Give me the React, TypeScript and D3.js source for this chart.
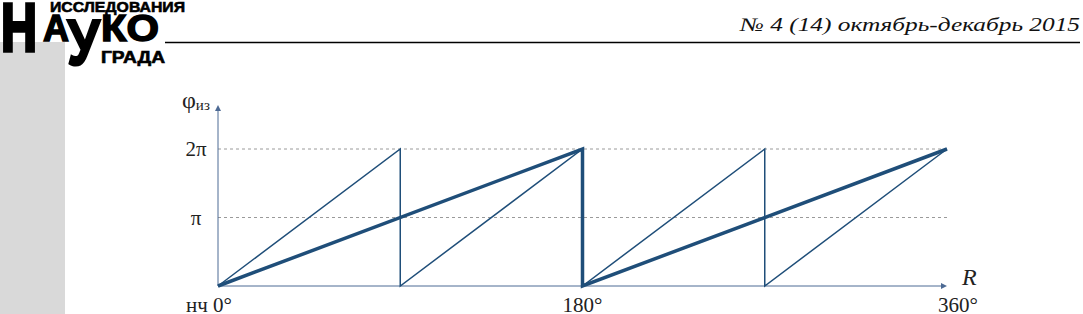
import React from "react";
import { scaleLinear, line } from "d3";

const W = 1083;
const H = 314;

// sawtooth curves, R in degrees, phase in units of π
const thinR = [0, 90, 90, 180, 180, 270, 270, 360];
const thinPhi = [0, 2, 0, 2, 0, 2, 0, 2];
const thickR = [0, 180, 180, 360];
const thickPhi = [0, 2, 0, 2];

const yTickValues = [1, 2];
const yTickLabels = ["π", "2π"];
const xTickValues = [0, 180, 360];
const xTickLabels = ["нч 0°", "180°", "360°"];

const COLOR_LINE = "#1f4e79";
const COLOR_AXIS = "#4d6a94";
const COLOR_GRID = "#9a9a9a";
const SERIF = "'Liberation Serif', 'DejaVu Serif', serif";
const SANS = "'Liberation Sans', Arial, sans-serif";

const x = scaleLinear().domain([0, 360]).range([218, 947]);
const y = scaleLinear().domain([0, 2]).range([286, 149]);

const toPts = (rs: number[], ps: number[]) => rs.map((r, i) => [r, ps[i]] as [number, number]);

const path = line<[number, number]>()
  .x((d) => x(d[0]))
  .y((d) => y(d[1]));

const Header = () => (
  <g>
    <rect x={0} y={42} width={65} height={H - 42} fill="#d9d9d9" />
    <g fontFamily={SANS} fontWeight="bold" fill="#000" stroke="#000" strokeLinejoin="miter">
      <text x={1} y={51} fontSize={68} textLength={36} lengthAdjust="spacingAndGlyphs" strokeWidth={3.5}>Н</text>
      <text x={50} y={12} fontSize={15} textLength={135} lengthAdjust="spacingAndGlyphs" strokeWidth={0.6}>ИССЛЕДОВАНИЯ</text>
      <text x={43} y={41} fontSize={37} textLength={26} lengthAdjust="spacingAndGlyphs" strokeWidth={1.5}>А</text>
      <text x={67} y={65} fontSize={64} textLength={33} lengthAdjust="spacingAndGlyphs" strokeWidth={2}>У</text>
      <text x={101} y={41} fontSize={37} textLength={58} lengthAdjust="spacingAndGlyphs" strokeWidth={1.5}>КО</text>
      <text x={101} y={63} fontSize={16} textLength={64} lengthAdjust="spacingAndGlyphs" strokeWidth={0.6}>ГРАДА</text>
    </g>
    <line x1={165} x2={1080} y1={42.5} y2={42.5} stroke="#000" strokeWidth={1.3} />
    <text
      x={1080}
      y={31}
      textAnchor="end"
      fontFamily={SERIF}
      fontStyle="italic"
      fontSize={19}
      fill="#111"
      textLength={340}
      lengthAdjust="spacingAndGlyphs"
    >
      № 4 (14) октябрь-декабрь 2015
    </text>
  </g>
);

const Chart = () => {
  const x0 = x(0);
  const y0 = y(0);
  const xEnd = x(360);
  const yTop = 105;
  return (
    <g>
      {/* dashed reference lines */}
      {yTickValues.map((v) => (
        <line
          key={v}
          x1={x0}
          x2={xEnd}
          y1={y(v)}
          y2={y(v)}
          stroke={COLOR_GRID}
          strokeWidth={1}
          strokeDasharray="3,3"
        />
      ))}
      {/* axes */}
      <line x1={x0} x2={x0} y1={y0} y2={yTop + 4} stroke={COLOR_AXIS} strokeWidth={1} />
      <path d={`M${x0 - 3},${yTop + 6}L${x0},${yTop}L${x0 + 3},${yTop + 6}Z`} fill={COLOR_AXIS} />
      <line x1={x0} x2={xEnd - 4} y1={y0} y2={y0} stroke={COLOR_AXIS} strokeWidth={1} />
      <path d={`M${xEnd - 6},${y0 - 3}L${xEnd},${y0}L${xEnd - 6},${y0 + 3}Z`} fill={COLOR_AXIS} />

      {/* curves */}
      <path d={path(toPts(thinR, thinPhi)) ?? ""} fill="none" stroke={COLOR_LINE} strokeWidth={1.5} />
      <path
        d={path(toPts(thickR, thickPhi)) ?? ""}
        fill="none"
        stroke={COLOR_LINE}
        strokeWidth={3.5}
        strokeLinejoin="miter"
      />

      {/* labels */}
      <g fontFamily={SERIF} fill="#222">
        {yTickValues.map((v, i) => (
          <text key={v} x={196} y={y(v) + 7} fontSize={21} textAnchor="middle">
            {yTickLabels[i]}
          </text>
        ))}
        {xTickValues.map((v, i) => (
          <text
            key={v}
            x={i === 0 ? x(v) + 14 : i === 2 ? x(v) + 11 : x(v)}
            y={312}
            fontSize={21}
            textAnchor={i === 0 ? "end" : "middle"}
          >
            {xTickLabels[i]}
          </text>
        ))}
        <text x={182} y={108} fontSize={24}>
          φ<tspan fontSize={15} dy={2}>из</tspan>
        </text>
        <text x={962} y={285} fontSize={24} fontStyle="italic">
          R
        </text>
      </g>
    </g>
  );
};

export default function App() {
  return (
    <svg
      width={W}
      height={H}
      viewBox={`0 0 ${W} ${H}`}
      style={{ position: "absolute", left: 0, top: 0, background: "#fff" }}
    >
      <Header />
      <Chart />
    </svg>
  );
}
